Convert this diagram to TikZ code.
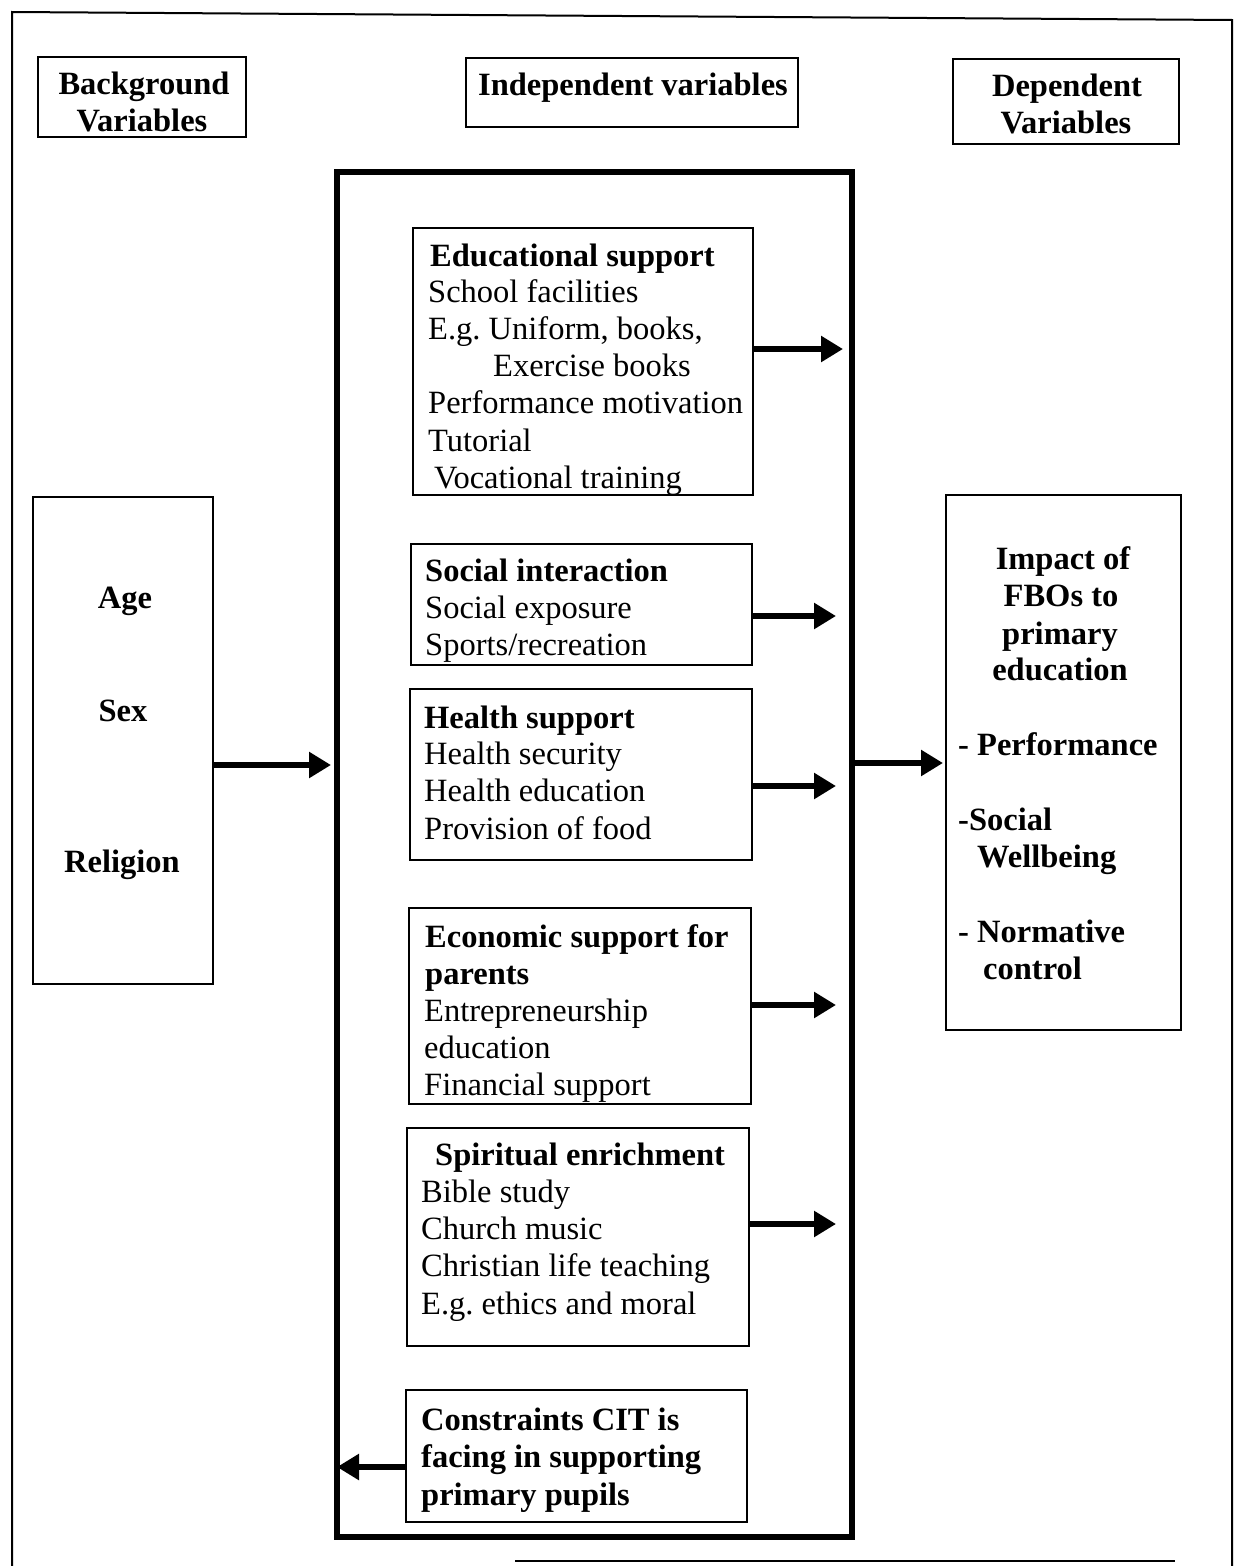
\documentclass[tikz,border=0pt]{standalone}
\usepackage{fontspec}
\setmainfont{Liberation Serif}
\usetikzlibrary{arrows.meta}
\frenchspacing
\begin{document}
\begin{tikzpicture}[x=1pt,y=-1pt,
  thinbox/.style={draw,line width=1.5pt,inner sep=0,outer sep=0},
  bigbox/.style={draw,line width=6pt,inner sep=0,outer sep=0},
  txt/.style={font=\fontsize{32.5}{37}\selectfont,inner sep=0,anchor=base west},
  hd/.style={font=\fontsize{32.5}{37}\selectfont\bfseries,inner sep=0,anchor=base west},
  hdc/.style={font=\fontsize{32.5}{37}\selectfont\bfseries,inner sep=0,anchor=base},
  arr/.style={line width=5.5pt,-{Triangle[length=22pt,width=25pt]}}]
\useasboundingbox (0,0) rectangle (1240,1566);
% outer frame
\draw[line width=2pt] (12,1566) -- (12,12) -- (1232,20) -- (1232,1566);
\draw[line width=2pt] (515,1561) -- (1175,1561);
% header boxes
\node[thinbox,minimum width=208,minimum height=80] (bgv) at (142,97) {};
\node[thinbox,minimum width=332,minimum height=69] (indv) at (632,92.5) {};
\node[thinbox,minimum width=226,minimum height=85] (depv) at (1066,101.5) {};
\node[hdc] (bgv1) at (144,94) {Background};
\node[hdc] (bgv2) at (142,131) {Variables};
\node[hdc] (indv1) at (633,95) {Independent variables};
\node[hdc] (depv1) at (1067,96) {Dependent};
\node[hdc] (depv2) at (1066,133) {Variables};
% big box
\node[bigbox,minimum width=515,minimum height=1365] (big) at (594.5,854.5) {};
% inner boxes
\node[thinbox,minimum width=340,minimum height=267] (edu) at (583,361.5) {};
\node[thinbox,minimum width=341,minimum height=121] (soc) at (581.5,604.5) {};
\node[thinbox,minimum width=342,minimum height=171] (hea) at (581,774.5) {};
\node[thinbox,minimum width=342,minimum height=196] (eco) at (580,1006) {};
\node[thinbox,minimum width=342,minimum height=218] (spi) at (578,1237) {};
\node[thinbox,minimum width=341,minimum height=132] (con) at (576.5,1456) {};
% side boxes
\node[thinbox,minimum width=180,minimum height=487] (bg) at (123,740.5) {};
\node[thinbox,minimum width=235,minimum height=535] (dep) at (1063.5,762.5) {};
% educational
\node[hd] (e1) at (430,266) {Educational support};
\node[txt] (e2) at (428,302) {School facilities};
\node[txt] (e3) at (428,339) {E.g. Uniform, books,};
\node[txt] (e4) at (493,376) {Exercise books};
\node[txt] (e5) at (428,413) {Performance motivation};
\node[txt] (e6) at (428,451) {Tutorial};
\node[txt] (e7) at (434,488) {Vocational training};
% social
\node[hd] (s1) at (425,581) {Social interaction};
\node[txt] (s2) at (425,618) {Social exposure};
\node[txt] (s3) at (425,655) {Sports/recreation};
% health
\node[hd] (h1) at (424,728) {Health support};
\node[txt] (h2) at (424,764) {Health security};
\node[txt] (h3) at (424,801) {Health education};
\node[txt] (h4) at (424,839) {Provision of food};
% economic
\node[hd] (c1) at (425,947) {Economic support for};
\node[hd] (c2) at (425,984) {parents};
\node[txt] (c3) at (424,1021) {Entrepreneurship};
\node[txt] (c4) at (424,1058) {education};
\node[txt] (c5) at (424,1095) {Financial support};
% spiritual
\node[hd] (p1) at (435,1165) {Spiritual enrichment};
\node[txt] (p2) at (421,1202) {Bible study};
\node[txt] (p3) at (421,1239) {Church music};
\node[txt] (p4) at (421,1276) {Christian life teaching};
\node[txt] (p5) at (421,1314) {E.g. ethics and moral};
% constraints
\node[hd] (k1) at (421,1430) {Constraints CIT is};
\node[hd] (k2) at (421,1467) {facing in supporting};
\node[hd] (k3) at (421,1505) {primary pupils};
% background
\node[hdc] (b1) at (125,608) {Age};
\node[hdc] (b2) at (123,721) {Sex};
\node[hdc] (b3) at (122,872) {Religion};
% dependent
\node[hdc] (d1) at (1063,569) {Impact of};
\node[hdc] (d2) at (1061,606) {FBOs to};
\node[hdc] (d3) at (1060,644) {primary};
\node[hdc] (d4) at (1060,680) {education};
\node[hd] (d5) at (958,755) {- Performance};
\node[hd] (d6) at (958,830) {-Social};
\node[hd] (d7) at (977,867) {Wellbeing};
\node[hd] (d8) at (958,942) {- Normative};
\node[hd] (d9) at (983,979) {control};
% arrows
\draw[arr,shorten >=9pt] (edu.east |- 0,349) -- (big.east |- 0,349);
\draw[arr,shorten >=16pt] (soc.east |- 0,616) -- (big.east |- 0,616);
\draw[arr,shorten >=16pt] (hea.east |- 0,786) -- (big.east |- 0,786);
\draw[arr,shorten >=16pt] (eco.east |- 0,1005) -- (big.east |- 0,1005);
\draw[arr,shorten >=16pt] (spi.east |- 0,1224) -- (big.east |- 0,1224);
\draw[arr] (con.west |- 0,1467) -- (big.west |- 0,1467);
\draw[arr,shorten >=6pt] (bg.east |- 0,765) -- (big.west |- 0,765);
\draw[arr,shorten >=3pt] (big.east |- 0,763) -- (dep.west |- 0,763);
\end{tikzpicture}
\end{document}
